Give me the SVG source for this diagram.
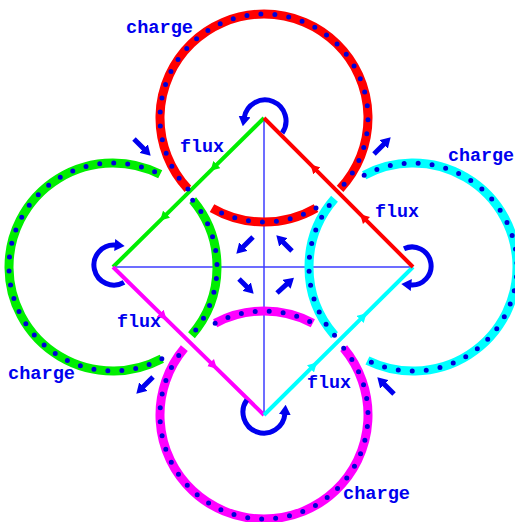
<svg xmlns="http://www.w3.org/2000/svg" width="515" height="522" viewBox="0 0 515 522">
<defs>
<style>
.axis{stroke:#3c3cff;stroke-width:1.5;fill:none}
.edge{stroke-width:4;fill:none}
.ring{fill:none;stroke-width:9}
.dots{fill:none;stroke:#0000d8;stroke-width:5;stroke-linecap:round;stroke-dasharray:0 14}
.curl{fill:none;stroke:#0000ee;stroke-width:5;marker-end:url(#bhead)}
.ptr{fill:none;stroke:#0000ee;stroke-width:5;marker-end:url(#bhead)}
text{font-family:"Liberation Mono","DejaVu Sans Mono",monospace;font-weight:bold;font-size:18px;fill:#0000ee}
</style>
<marker id="bhead" viewBox="0 -6 10 12" refX="1" refY="0" markerWidth="10" markerHeight="12" markerUnits="userSpaceOnUse" orient="auto"><path d="M0,-6 L10,0 L0,6 z" fill="#0000ee"/></marker>
<marker id="hg" viewBox="0 -5 9 10" refX="4.5" refY="0" markerWidth="9" markerHeight="10" markerUnits="userSpaceOnUse" orient="auto"><path d="M0,-5 L9,0 L0,5 z" fill="#00ee00"/></marker>
<marker id="hm" viewBox="0 -5 9 10" refX="4.5" refY="0" markerWidth="9" markerHeight="10" markerUnits="userSpaceOnUse" orient="auto"><path d="M0,-5 L9,0 L0,5 z" fill="#ff00ff"/></marker>
<marker id="hc" viewBox="0 -5 9 10" refX="4.5" refY="0" markerWidth="9" markerHeight="10" markerUnits="userSpaceOnUse" orient="auto"><path d="M0,-5 L9,0 L0,5 z" fill="#00ffff"/></marker>
<marker id="hr" viewBox="0 -5 9 10" refX="4.5" refY="0" markerWidth="9" markerHeight="10" markerUnits="userSpaceOnUse" orient="auto"><path d="M0,-5 L9,0 L0,5 z" fill="#ff0000"/></marker>
</defs>

<g id="axes">
<path class="axis" d="M113,267 H413"/>
<path class="axis" d="M264,118 V415"/>
</g>

<g id="connectors">
<path id="edge-green" class="edge" stroke="#00ee00" marker-mid="url(#hg)" d="M264,118 L213.67,167.67 L163.33,217.33 L113,267"/>
<path id="edge-magenta" class="edge" stroke="#ff00ff" marker-mid="url(#hm)" d="M113,267 L163.33,316.33 L213.67,365.67 L264,415"/>
<path id="edge-cyan" class="edge" stroke="#00ffff" marker-mid="url(#hc)" d="M264,415 L313.67,365.67 L363.33,316.33 L413,267"/>
<path id="edge-red" class="edge" stroke="#ff0000" marker-mid="url(#hr)" d="M413,267 L363.33,217.33 L313.67,167.67 L264,118"/>
</g>

<g id="ring-red">
<path class="ring" stroke="#ff0000" d="M187.94,188.93 A104,104 0 1 1 340.06,188.93"/>
<path class="ring" stroke="#ff0000" d="M316,208.07 A104,104 0 0 1 212,208.07"/>
<path class="dots" d="M187.94,188.93 A104,104 0 1 1 340.06,188.93"/>
<path class="dots" d="M316,208.07 A104,104 0 0 1 212,208.07"/>
</g>
<g id="ring-green">
<path class="ring" stroke="#00ee00" d="M161.83,358.82 A104,104 0 1 1 160.21,174.33"/>
<path class="ring" stroke="#00ee00" d="M192.67,200.15 A104,104 0 0 1 191.49,335.23"/>
<path class="dots" d="M161.83,358.82 A104,104 0 1 1 160.21,174.33"/>
<path class="dots" d="M192.67,200.15 A104,104 0 0 1 191.49,335.23"/>
</g>
<g id="ring-cyan">
<path class="ring" stroke="#00ffff" d="M364.17,175.18 A104,104 0 1 1 367.41,360.48"/>
<path class="ring" stroke="#00ffff" d="M334.51,335.23 A104,104 0 0 1 334.51,198.77"/>
<path class="dots" d="M364.17,175.18 A104,104 0 1 1 367.41,360.48"/>
<path class="dots" d="M334.51,335.23 A104,104 0 0 1 334.51,198.77"/>
</g>
<g id="ring-magenta">
<path class="ring" stroke="#ff00ff" d="M343.67,348.15 A104,104 0 1 1 184.33,348.15"/>
<path class="ring" stroke="#ff00ff" d="M215.17,323.18 A104,104 0 0 1 312.83,323.18"/>
<path class="dots" d="M343.67,348.15 A104,104 0 1 1 184.33,348.15"/>
<path class="dots" d="M215.17,323.18 A104,104 0 0 1 312.83,323.18"/>
</g>

<g id="curls">
<path class="curl" d="M282.2,133 A21,21 0 1 0 244.3,117.4"/>
<path class="curl" d="M124,282.3 A20,20 0 1 1 115.7,245.1"/>
<path class="curl" d="M404,248.8 A19,19 0 1 1 410.3,284.9"/>
<path class="curl" d="M246.8,400 A21,21 0 1 0 284.9,413.8"/>
</g>

<g id="pointers">
<path class="ptr" d="M134,139 L144.3,149.3"/>
<path class="ptr" d="M374,154 L384.3,143.7"/>
<path class="ptr" d="M153,377 L142.7,387.3"/>
<path class="ptr" d="M394,394 L383.7,383.7"/>
<path class="ptr" d="M253,237 L242.7,247.3"/>
<path class="ptr" d="M239,279 L247.3,287.3"/>
<path class="ptr" d="M292,251 L282.7,241.7"/>
<path class="ptr" d="M277,293 L287.3,283.7"/>
</g>

<g id="labels">
<text x="126" y="33" textLength="67" lengthAdjust="spacingAndGlyphs">charge</text>
<text x="180" y="152" textLength="44" lengthAdjust="spacingAndGlyphs">flux</text>
<text x="448" y="161" textLength="66" lengthAdjust="spacingAndGlyphs">charge</text>
<text x="375" y="217" textLength="44" lengthAdjust="spacingAndGlyphs">flux</text>
<text x="117" y="327" textLength="44" lengthAdjust="spacingAndGlyphs">flux</text>
<text x="8" y="379" textLength="67" lengthAdjust="spacingAndGlyphs">charge</text>
<text x="307" y="388" textLength="44" lengthAdjust="spacingAndGlyphs">flux</text>
<text x="343" y="499" textLength="67" lengthAdjust="spacingAndGlyphs">charge</text>
</g>
</svg>
